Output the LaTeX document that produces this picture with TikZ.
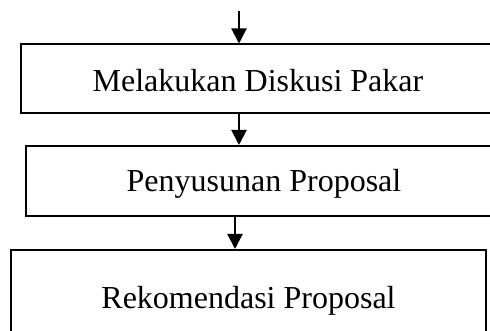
\documentclass[tikz,border=0pt]{standalone}
\usepackage{fontspec}
\setmainfont{Liberation Serif}
\usetikzlibrary{arrows.meta}
\begin{document}
\begin{tikzpicture}[x=1pt,y=1pt,
  box/.style={draw, line width=2pt, inner sep=0pt, font=\fontsize{32}{36}\selectfont, text height=30pt, text depth=4pt},
  arr/.style={line width=2pt, -{Triangle[width=15pt,length=15pt]}}]
\useasboundingbox[clip] (0,0) rectangle (490,-331);
\node[box, minimum width=474pt, minimum height=68.5pt] (b1) at (258,-78.75) {Melakukan Diskusi Pakar};
\node[box, minimum width=476pt, minimum height=70pt, text height=26pt] (b2) at (264,-181) {Penyusunan Proposal};
\node[box, minimum width=475pt, minimum height=90pt] (b3) at (248.5,-295) {Rekomendasi Proposal};
\coordinate (top) at (239,-11);
\coordinate (xa) at (239,0);
\coordinate (xb) at (235,0);
\draw[arr] (top) -- (top |- b1.north);
\draw[arr] (xa |- b1.south) -- (xa |- b2.north);
\draw[arr] (xb |- b2.south) -- (xb |- b3.north);
\end{tikzpicture}
\end{document}
